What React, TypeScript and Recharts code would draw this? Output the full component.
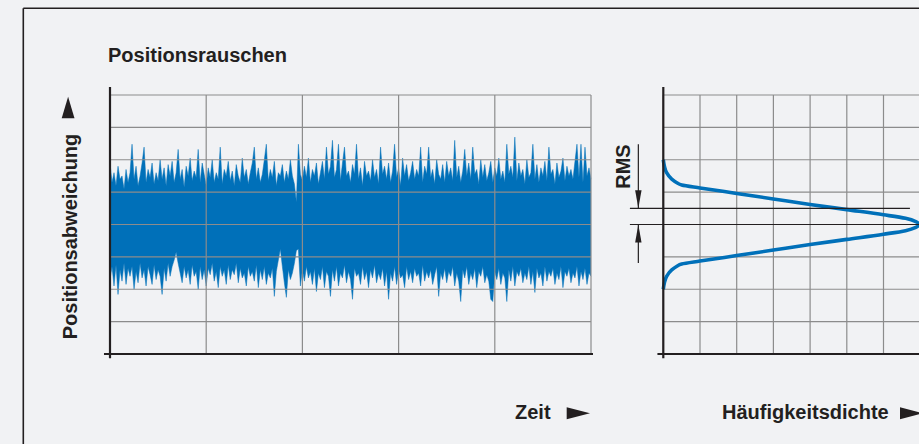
import React from 'react';
import {
  ComposedChart,
  LineChart,
  Area,
  Line,
  XAxis,
  YAxis,
  CartesianGrid,
  ReferenceLine,
} from 'recharts';

// ---- Left panel: noise signal (upper / lower envelope per sample, grid units) ----
const noiseHigh = [
  1.9, 1.3, 1.6, 1.2, 1.8, 1.4, 1.5, 1.1, 1.7, 1.3,
  1.6, 2.48, 1.4, 1.8, 1.2, 1.5, 1.9, 2.39, 1.3, 1.7,
  1.45, 1.9, 1.25, 1.6, 1.35, 2.0, 1.4, 1.75, 1.2, 1.85,
  1.5, 1.95, 1.3, 1.6, 2.32, 1.4, 1.7, 1.15, 1.8, 1.5,
  2.05, 1.35, 1.65, 1.45, 2.32, 1.3, 1.9, 1.55, 1.2, 1.75,
  1.45, 2.0, 1.3, 1.6, 1.4, 2.39, 1.25, 1.7, 1.5, 1.95,
  1.35, 1.65, 1.2, 1.85, 1.5, 1.3, 2.05, 1.45, 1.7, 1.25,
  1.6, 1.9, 2.39, 1.4, 1.75, 1.3, 1.55, 2.0, 2.48, 1.35,
  1.7, 1.45, 1.95, 1.2, 1.6, 1.5, 1.85, 1.3, 1.65, 1.4,
  2.0, 1.5, 1.25, 0.69, 2.48, 1.55, 1.35, 1.8, 1.45, 2.05,
  1.3, 1.7, 1.5, 1.9, 1.25, 1.6, 1.95, 1.4, 2.39, 1.55,
  1.8, 2.6, 1.45, 1.7, 2.48, 1.35, 1.9, 2.39, 1.5, 1.65,
  1.3, 1.85, 1.55, 2.48, 1.4, 1.75, 1.2, 1.95, 1.5, 1.65,
  1.35, 2.0, 1.45, 1.7, 1.25, 2.39, 1.55, 1.8, 1.4, 1.9,
  1.3, 1.65, 2.48, 1.45, 1.75, 1.2, 2.05, 1.5, 1.85, 1.35,
  1.6, 1.95, 1.4, 1.7, 1.5, 2.39, 1.3, 1.8, 1.55, 2.39,
  1.45, 1.7, 1.25, 2.0, 1.55, 1.4, 1.85, 1.3, 1.95, 1.5,
  1.75, 1.35, 2.6, 1.45, 1.8, 1.3, 1.65, 2.32, 1.5, 1.9,
  1.4, 2.39, 1.55, 1.7, 1.25, 2.0, 1.45, 1.85, 1.35, 1.6,
  1.95, 1.3, 1.75, 1.5, 2.05, 1.4, 1.65, 1.3, 2.48, 1.55,
  1.8, 1.45, 2.7, 1.35, 1.9, 1.5, 1.7, 1.25, 2.0, 1.45,
  1.6, 2.48, 1.4, 1.85, 1.3, 1.75, 1.5, 1.95, 1.35, 2.39,
  1.55, 1.7, 1.25, 1.9, 1.45, 1.65, 2.05, 1.35, 1.8, 1.5,
  1.7, 1.4, 1.95, 2.48, 1.45, 2.48, 1.3, 2.39, 1.5, 1.75,
  1.4,
];

const noiseLow = [
  -1.7, -1.3, -1.9, -1.25, -2.16, -1.4, -1.75, -1.2, -1.85, -1.35,
  -1.6, -1.3, -2.0, -1.45, -1.8, -1.2, -1.65, -1.4, -1.9, -1.3,
  -1.55, -1.85, -1.25, -1.7, -1.4, -1.6, -2.16, -1.35, -1.75, -1.2,
  -1.6, -1.3, -1.1, -0.85, -1.2, -1.5, -1.8, -1.3, -1.65, -1.4,
  -1.85, -1.25, -1.6, -1.45, -2.0, -1.3, -1.7, -1.4, -1.9, -1.35,
  -1.55, -1.2, -1.75, -1.45, -1.95, -1.3, -1.6, -1.4, -1.85, -1.25,
  -1.7, -1.4, -1.55, -1.2, -1.8, -1.35, -1.65, -1.5, -1.9, -1.3,
  -1.6, -1.45, -1.75, -1.25, -1.95, -1.4, -1.7, -1.3, -1.85, -1.5,
  -1.65, -1.35, -2.22, -1.45, -1.1, -0.76, -1.3, -1.8, -2.25, -1.4,
  -1.7, -1.5, -1.2, -0.8, -0.76, -1.9, -1.4, -1.75, -1.3, -1.65,
  -1.45, -1.85, -1.35, -2.07, -1.5, -1.7, -1.3, -1.95, -1.45, -1.6,
  -2.22, -1.4, -1.75, -1.3, -1.9, -1.5, -1.65, -1.25, -1.8, -1.45,
  -1.7, -2.31, -1.35, -1.6, -1.5, -1.85, -1.3, -1.7, -1.45, -1.95,
  -1.4, -1.65, -1.25, -1.8, -1.5, -1.7, -1.35, -1.9, -1.45, -2.31,
  -1.5, -1.75, -1.3, -1.85, -1.4, -1.65, -1.55, -1.95, -1.3, -1.7,
  -1.45, -1.8, -1.35, -1.6, -1.5, -1.9, -1.25, -1.75, -1.45, -1.65,
  -1.4, -1.85, -1.55, -1.3, -2.22, -1.5, -1.7, -1.35, -1.8, -1.45,
  -1.6, -1.3, -1.9, -1.5, -1.75, -2.38, -1.4, -1.65, -1.3, -1.85,
  -1.5, -1.7, -1.35, -1.95, -1.45, -1.6, -1.3, -1.8, -1.55, -1.75,
  -2.31, -2.38, -1.45, -1.7, -1.35, -1.85, -1.5, -1.65, -2.38, -1.4,
  -1.75, -1.3, -1.9, -1.45, -1.6, -1.35, -1.8, -1.5, -1.7, -1.3,
  -1.85, -1.45, -2.1, -1.35, -1.65, -1.5, -1.9, -1.3, -1.75, -1.45,
  -1.6, -1.35, -1.85, -1.5, -1.7, -1.3, -1.95, -1.45, -1.6, -1.35,
  -1.8, -1.5, -1.65, -1.3, -1.9, -1.45, -1.7, -1.35, -1.85, -1.5,
  -1.6,
];

const timeTicks = [0, 48, 96, 144, 192, 240];
const posTicks = [-4, -3, -2, -1, 0, 1, 2, 3, 4];

// ---- Right panel: probability density curve ----
const densityValues = [0, 0.03, 0.09, 0.23, 0.37, 0.5, 1.0, 2.0, 3.0, 4.0, 5.0, 6.0, 6.6, 6.88, 6.97, 6.88, 6.6, 6.0, 5.0, 4.0, 3.0, 2.0, 1.0, 0.5, 0.37, 0.23, 0.09, 0.03, 0];
const densityPositions = [2.0, 1.8, 1.6, 1.4, 1.29, 1.22, 1.13, 0.96, 0.79, 0.62, 0.46, 0.3, 0.19, 0.09, 0, -0.09, -0.19, -0.3, -0.46, -0.62, -0.79, -0.96, -1.13, -1.22, -1.29, -1.4, -1.6, -1.8, -2.0];
const densityTicks = [0, 1, 2, 3, 4, 5, 6, 7];
const rmsValue = 0.5;

const noiseData = noiseHigh.map((h, i) => ({ t: i, range: [noiseLow[i], h] }));
const densityData = densityValues.map((d, i) => ({ d, p: densityPositions[i] }));

const BLUE = '#0070b9';
const DARK = '#231f20';
const GRID = '#8c8c8c';
const BG = '#f1f2f4';
const FONT = '"Liberation Sans", Arial, Helvetica, sans-serif';

const NoTick = () => <g />;

const ArrowLine = (props: any) => {
  const { x1, y1, x2, y2 } = props;
  const dir = y2 > y1 ? 1 : -1;
  const len = 18;
  const hw = 3.2;
  return (
    <g>
      <line x1={x1} y1={y1} x2={x2} y2={y2} stroke={DARK} strokeWidth={1.2} />
      <polygon
        points={`${x2},${y2} ${x2 - hw},${y2 - dir * len} ${x2 + hw},${y2 - dir * len}`}
        fill={DARK}
      />
    </g>
  );
};

export default function App() {
  return (
    <div
      style={{
        position: 'absolute',
        left: 0,
        top: 0,
        width: 919,
        height: 444,
        overflow: 'hidden',
        background: BG,
      }}
    >
      {/* Left: noise */}
      <div style={{ position: 'absolute', left: 0, top: 0 }}>
        <ComposedChart
          width={919}
          height={444}
          data={noiseData}
          margin={{ top: 95, right: 328, bottom: 90, left: 110 }}
        >
          <XAxis
            dataKey="t"
            type="number"
            domain={[0, 240]}
            ticks={timeTicks}
            height={0}
            axisLine={false}
            tick={NoTick}
            tickSize={5}
            stroke={GRID}
            tickLine={{ stroke: GRID, strokeWidth: 1.2 }}
          />
          <YAxis
            type="number"
            domain={[-4, 4]}
            ticks={posTicks}
            width={0}
            axisLine={false}
            tick={NoTick}
            tickSize={6}
            stroke={GRID}
            tickLine={{ stroke: GRID, strokeWidth: 1.2 }}
          />
          <Area
            dataKey="range"
            type="linear"
            fill={BLUE}
            fillOpacity={1}
            stroke={BLUE}
            strokeWidth={0.5}
            isAnimationActive={false}
            dot={false}
            activeDot={false}
          />
          <CartesianGrid stroke={GRID} strokeWidth={1.2} zIndex={200} />
          <ReferenceLine
            segment={[{ x: 0, y: 4.25 }, { x: 0, y: -4.13 }]}
            stroke={DARK}
            strokeWidth={2.2}
            ifOverflow="visible"
          />
          <ReferenceLine
            segment={[{ x: -3, y: -4 }, { x: 241, y: -4 }]}
            stroke={DARK}
            strokeWidth={2.2}
            ifOverflow="visible"
          />
        </ComposedChart>
      </div>

      {/* Right: density */}
      <div style={{ position: 'absolute', left: 0, top: 0 }}>
        <LineChart
          layout="vertical"
          width={930}
          height={444}
          data={densityData}
          margin={{ top: 95, right: 9.8, bottom: 90, left: 663.3 }}
        >
          <CartesianGrid stroke={GRID} strokeWidth={1.2} />
          <XAxis
            type="number"
            domain={[0, 7]}
            ticks={densityTicks}
            height={0}
            axisLine={false}
            tick={NoTick}
            tickSize={5}
            stroke={GRID}
            tickLine={{ stroke: GRID, strokeWidth: 1.2 }}
          />
          <YAxis
            type="number"
            dataKey="p"
            domain={[-4, 4]}
            ticks={posTicks}
            reversed
            width={0}
            axisLine={false}
            tick={NoTick}
            tickLine={false}
          />
          <Line
            dataKey="d"
            type="monotone"
            stroke={BLUE}
            strokeWidth={3.6}
            dot={false}
            activeDot={false}
            isAnimationActive={false}
          />
          <ReferenceLine
            segment={[{ x: 0, y: 4.25 }, { x: 0, y: -4.13 }]}
            stroke={DARK}
            strokeWidth={2.2}
            ifOverflow="visible"
          />
          <ReferenceLine
            segment={[{ x: -0.16, y: -4 }, { x: 7.5, y: -4 }]}
            stroke={DARK}
            strokeWidth={2.2}
            ifOverflow="visible"
          />
          <ReferenceLine
            segment={[{ x: -0.91, y: rmsValue }, { x: 6.72, y: rmsValue }]}
            stroke={DARK}
            strokeWidth={1.2}
            ifOverflow="visible"
          />
          <ReferenceLine
            segment={[{ x: -0.91, y: 0 }, { x: 7.5, y: 0 }]}
            stroke={DARK}
            strokeWidth={1.2}
            ifOverflow="visible"
          />
          <ReferenceLine
            segment={[{ x: -0.68, y: 2.48 }, { x: -0.68, y: rmsValue }]}
            ifOverflow="visible"
            shape={ArrowLine}
          />
          <ReferenceLine
            segment={[{ x: -0.68, y: -1.19 }, { x: -0.68, y: 0 }]}
            ifOverflow="visible"
            shape={ArrowLine}
          />
        </LineChart>
      </div>

      {/* Frame and text */}
      <svg
        width={919}
        height={444}
        style={{ position: 'absolute', left: 0, top: 0, pointerEvents: 'none' }}
      >
        <line x1={23.3} y1={8.3} x2={919} y2={8.3} stroke={DARK} strokeWidth={1.6} />
        <line x1={23.3} y1={8.3} x2={23.3} y2={444} stroke={DARK} strokeWidth={1.6} />
        <g fontFamily={FONT} fontWeight="bold" fontSize={20} fill={DARK}>
          <text x={108} y={62.3}>Positionsrauschen</text>
          <text x={76.7} y={236.5} textAnchor="middle" transform="rotate(-90 76.7 236.5)">
            Positionsabweichung
          </text>
          <text x={630} y={166.5} textAnchor="middle" transform="rotate(-90 630 166.5)">
            RMS
          </text>
          <text x={515} y={419.3}>Zeit</text>
          <text x={722} y={419.3}>Häufigkeitsdichte</text>
        </g>
        <polygon points="61.7,118.3 74.5,118.3 68.1,96.7" fill={DARK} />
        <polygon points="566.7,407.3 566.7,419.3 590,413.3" fill={DARK} />
        <polygon points="900,407.3 900,419.3 923,413.3" fill={DARK} />
      </svg>
    </div>
  );
}
